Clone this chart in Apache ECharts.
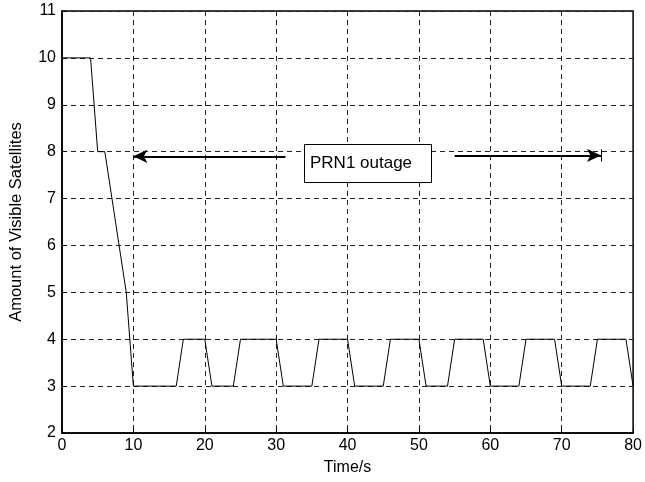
<!DOCTYPE html>
<html><head><meta charset="utf-8">
<script src="https://cdn.jsdelivr.net/npm/echarts@6/dist/echarts.min.js"></script>
<style>html,body{margin:0;padding:0;background:#fff}#c{width:645px;height:482px}</style>
</head><body><div id="c"></div>
<script>
const timeS = [0, 4, 5, 6, 9, 10, 16, 17, 20, 21, 24, 25, 30, 31, 35, 36, 40, 41, 45, 46, 50, 51, 54, 55, 59, 60, 64, 65, 69, 70, 74, 75, 79, 80];
const satellites = [10, 10, 8, 8, 5, 3, 3, 4, 4, 3, 3, 4, 4, 3, 3, 4, 4, 3, 3, 4, 4, 3, 3, 4, 4, 3, 3, 4, 4, 3, 3, 4, 4, 3];
const xTicks = [0, 10, 20, 30, 40, 50, 60, 70, 80];
const yTicks = [2, 3, 4, 5, 6, 7, 8, 9, 10, 11];
const outageLabel = 'PRN1 outage';
const leftArrow = [[31.3, 7.9], [10, 7.9]];
const rightArrow = [[55, 7.92], [75.5, 7.92]];

const chart = echarts.init(document.getElementById('c'));
const font = 'Liberation Sans, Arial, Helvetica, sans-serif';
const dash = {color: '#222', width: 1, type: [5, 4]};
chart.setOption({
  animation: false,
  backgroundColor: '#fff',
  grid: {left: 60, right: 9, top: 11, bottom: 49, show: true, borderColor: '#000', borderWidth: 1.5},
  xAxis: {
    type: 'value', min: xTicks[0], max: xTicks[xTicks.length - 1], interval: 10,
    name: 'Time/s', nameLocation: 'middle', nameGap: 27,
    nameTextStyle: {color: '#000', fontSize: 16, fontFamily: font},
    axisLine: {show: true, lineStyle: {color: '#000', width: 1.5}},
    axisTick: {show: true, inside: true, length: 5, lineStyle: {color: '#000'}},
    axisLabel: {color: '#000', fontSize: 16, fontFamily: font, margin: 5},
    splitLine: {show: true, lineStyle: dash}
  },
  yAxis: {
    type: 'value', min: yTicks[0], max: yTicks[yTicks.length - 1], interval: 1,
    name: 'Amount of Visible Satellites', nameLocation: 'middle', nameGap: 37,
    nameTextStyle: {color: '#000', fontSize: 16.5, fontFamily: font},
    axisLine: {show: true, lineStyle: {color: '#000', width: 1.5}},
    axisTick: {show: true, inside: true, length: 5, lineStyle: {color: '#000'}},
    axisLabel: {color: '#000', fontSize: 16, fontFamily: font, margin: 6},
    splitLine: {show: true, lineStyle: dash}
  },
  series: [
    {
      type: 'line', data: timeS.map((t, i) => [t, satellites[i]]),
      symbol: 'none', lineStyle: {color: '#000', width: 1}, z: 5
    },
    {
      type: 'line', data: [], symbol: 'none',
      markLine: {
        silent: true, animation: false,
        symbol: ['none', 'arrow'], symbolSize: [10, 14],
        lineStyle: {color: '#000', width: 1.8, type: 'solid'},
        label: {show: false},
        data: [
          [{coord: leftArrow[0]}, {coord: leftArrow[1]}],
          [{coord: rightArrow[0]}, {coord: rightArrow[1]}]
        ]
      }
    },
    {
      type: 'line', data: [], symbol: 'none',
      markLine: {
        silent: true, animation: false, symbol: ['none', 'none'],
        lineStyle: {color: '#000', width: 1, type: 'solid'},
        label: {show: false},
        data: [
          [{coord: [rightArrow[1][0], rightArrow[1][1] + 0.13]}, {coord: [rightArrow[1][0], rightArrow[1][1] - 0.13]}]
        ]
      }
    }
  ],
  graphic: [
    {type: 'rect', left: 304, top: 144, shape: {width: 127, height: 38}, style: {fill: '#fff', stroke: '#000', lineWidth: 1}, z: 10},
    {type: 'text', z: 11, style: {x: 310, y: 163, text: outageLabel, fill: '#000', font: '17px ' + font, verticalAlign: 'middle'}}
  ]
});
</script></body></html>
